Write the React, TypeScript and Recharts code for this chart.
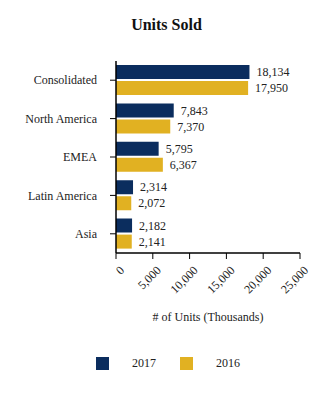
import React from 'react';
import { BarChart, Bar, XAxis, YAxis, Legend, LabelList } from 'recharts';

const categories = ['Consolidated', 'North America', 'EMEA', 'Latin America', 'Asia'];
const units2017 = [18134, 7843, 5795, 2314, 2182];
const units2016 = [17950, 7370, 6367, 2072, 2141];
const xTicks = [0, 5000, 10000, 15000, 20000, 25000];
const seriesNames = ['2017', '2016'];

const NAVY = '#0B2D5E';
const GOLD = '#E1B122';
const FONT = '"Liberation Serif", "Times New Roman", serif';

const data = categories.map((c, i) => ({ name: c, y2017: units2017[i], y2016: units2016[i] }));

const fmt = (v: number) => v.toLocaleString('en-US');

const XTick = (props: any) => {
  const { x, y, payload } = props;
  return (
    <text
      x={x + 3}
      y={y + 4}
      textAnchor="end"
      fontFamily={FONT}
      fontSize={12}
      fill="#222"
      transform={`rotate(-45 ${x + 3} ${y + 4})`}
      dy="0.71em"
    >
      {fmt(payload.value)}
    </text>
  );
};

const LegendContent = () => (
  <div style={{ display: 'flex', alignItems: 'center', paddingLeft: 96, fontFamily: FONT, fontSize: 12, color: '#222', height: 13 }}>
    <span style={{ display: 'inline-block', width: 13, height: 13, background: NAVY }} />
    <span style={{ marginLeft: 23 }}>{seriesNames[0]}</span>
    <span style={{ display: 'inline-block', width: 13, height: 13, background: GOLD, marginLeft: 24 }} />
    <span style={{ marginLeft: 23 }}>{seriesNames[1]}</span>
  </div>
);

export default function App() {
  return (
    <div style={{ position: 'absolute', left: 0, top: 0, width: 333, height: 400, background: '#fff' }}>
      <div
        style={{
          position: 'absolute',
          left: 0,
          top: 15,
          width: 333,
          textAlign: 'center',
          fontFamily: FONT,
          fontWeight: 'bold',
          fontSize: 16,
          color: '#111',
          lineHeight: '20px',
        }}
      >
        Units Sold
      </div>
      <BarChart
        width={333}
        height={400}
        data={data}
        layout="vertical"
        margin={{ top: 61, right: 33, bottom: 75, left: 0 }}
        barSize={14}
        barGap={2}
      >
        <XAxis
          type="number"
          domain={[0, 25000]}
          ticks={xTicks}
          interval={0}
          tick={<XTick />}
          tickSize={6}
          axisLine={{ stroke: '#000', strokeWidth: 1.5 }}
          tickLine={{ stroke: '#000' }}
          height={72}
          label={{ value: '# of Units (Thousands)', position: 'insideBottom', offset: 4, fontFamily: FONT, fontSize: 12, fill: '#222' }}
        />
        <YAxis
          type="category"
          dataKey="name"
          width={116}
          tickSize={6}
          tickMargin={13}
          axisLine={{ stroke: '#000', strokeWidth: 1.5 }}
          tickLine={{ stroke: '#000' }}
          tick={{ fontFamily: FONT, fontSize: 12, fill: '#222' }}
        />
        <Legend
          layout="horizontal"
          verticalAlign="middle"
          align="center"
          content={<LegendContent />}
          wrapperStyle={{ top: 357, left: 0, width: 333, height: 13 }}
        />
        <Bar dataKey="y2017" name={seriesNames[0]} fill={NAVY} isAnimationActive={false}>
          <LabelList dataKey="y2017" position="right" offset={7} formatter={(v: any) => fmt(v)} style={{ fontFamily: FONT, fontSize: 12, fill: '#222' }} />
        </Bar>
        <Bar dataKey="y2016" name={seriesNames[1]} fill={GOLD} isAnimationActive={false}>
          <LabelList dataKey="y2016" position="right" offset={7} formatter={(v: any) => fmt(v)} style={{ fontFamily: FONT, fontSize: 12, fill: '#222' }} />
        </Bar>
      </BarChart>
    </div>
  );
}
